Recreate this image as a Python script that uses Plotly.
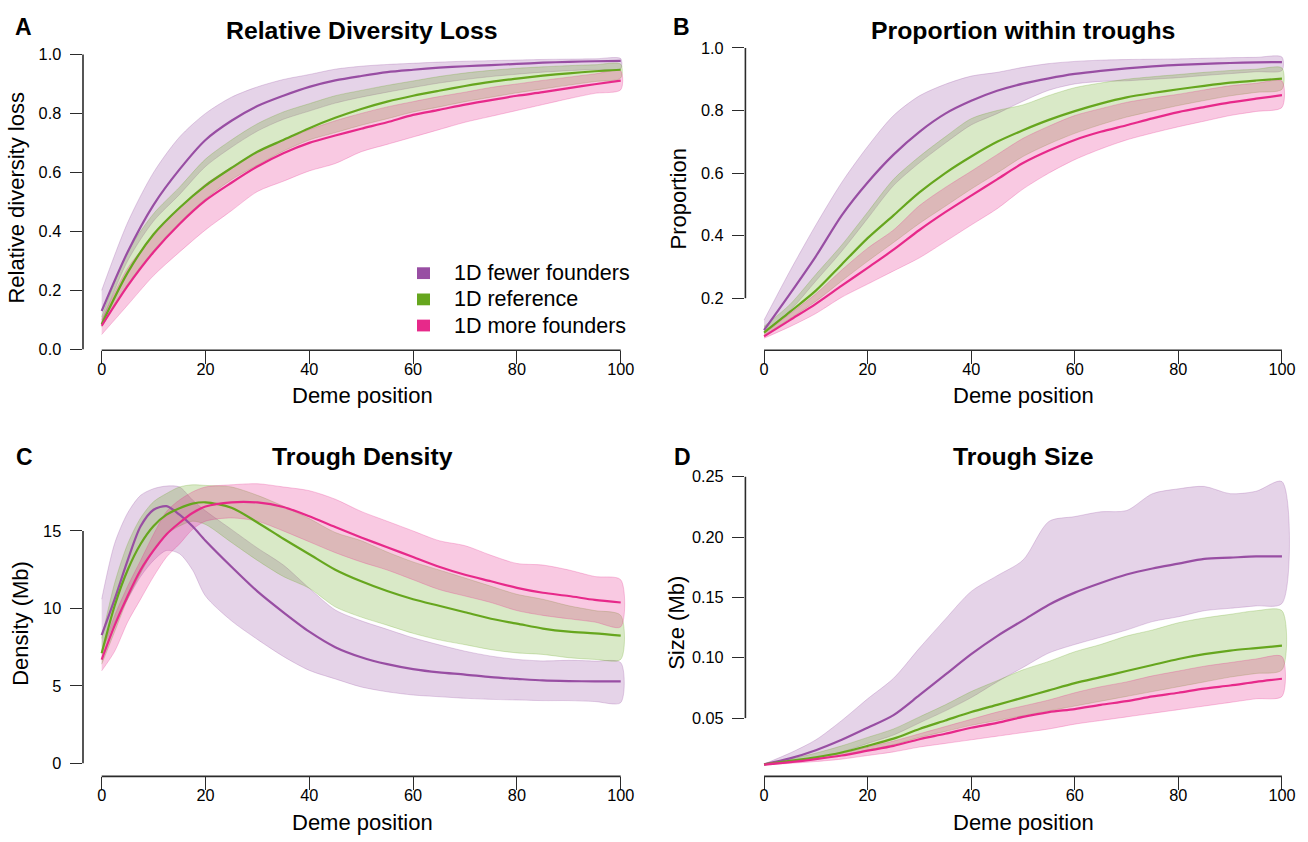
import plotly.graph_objects as go

# ---------------- data ----------------
deme = [0, 5, 10, 15, 20, 25, 30, 35, 40, 45, 50, 55, 60, 65, 70, 75, 80, 85, 90, 95, 100]
deme_c = [0, 2.5, 5, 7.5, 10, 12.5, 15, 17.5, 20, 25, 30, 35, 40, 45, 50, 55, 60, 65, 70, 75, 80, 85, 90, 95, 100]

series_names = ["1D fewer founders", "1D reference", "1D more founders"]

# Panel A: relative diversity loss
a_fewer_mean = [0.13, 0.33, 0.49, 0.61, 0.71, 0.775, 0.825, 0.86, 0.89, 0.912, 0.927, 0.94, 0.948, 0.955, 0.96, 0.964, 0.968, 0.972, 0.975, 0.977, 0.978]
a_fewer_hi = [0.20, 0.43, 0.60, 0.72, 0.80, 0.855, 0.89, 0.915, 0.932, 0.95, 0.96, 0.966, 0.97, 0.974, 0.977, 0.979, 0.981, 0.983, 0.984, 0.985, 0.986]
a_fewer_lo = [0.09, 0.30, 0.435, 0.525, 0.62, 0.685, 0.74, 0.78, 0.808, 0.835, 0.855, 0.872, 0.888, 0.903, 0.915, 0.925, 0.933, 0.94, 0.945, 0.949, 0.952]
a_ref_mean = [0.085, 0.26, 0.39, 0.48, 0.555, 0.615, 0.67, 0.71, 0.75, 0.785, 0.815, 0.84, 0.86, 0.877, 0.893, 0.907, 0.918, 0.928, 0.936, 0.943, 0.948]
a_ref_hi = [0.11, 0.33, 0.46, 0.55, 0.645, 0.71, 0.765, 0.805, 0.833, 0.86, 0.878, 0.895, 0.91, 0.925, 0.937, 0.946, 0.953, 0.958, 0.962, 0.965, 0.967]
a_ref_lo = [0.075, 0.22, 0.335, 0.43, 0.51, 0.575, 0.625, 0.672, 0.71, 0.735, 0.76, 0.782, 0.805, 0.822, 0.84, 0.855, 0.87, 0.883, 0.896, 0.908, 0.92]
a_more_mean = [0.08, 0.215, 0.33, 0.425, 0.505, 0.565, 0.62, 0.665, 0.70, 0.725, 0.748, 0.77, 0.795, 0.812, 0.83, 0.845, 0.86, 0.872, 0.886, 0.899, 0.911]
a_more_hi = [0.10, 0.275, 0.385, 0.48, 0.56, 0.617, 0.67, 0.71, 0.745, 0.775, 0.80, 0.822, 0.84, 0.857, 0.872, 0.888, 0.90, 0.912, 0.923, 0.934, 0.944]
a_more_lo = [0.05, 0.15, 0.25, 0.33, 0.405, 0.47, 0.535, 0.57, 0.605, 0.63, 0.67, 0.695, 0.72, 0.745, 0.77, 0.79, 0.81, 0.83, 0.85, 0.868, 0.88]

# Panel B: proportion within troughs
b_fewer_mean = [0.098, 0.214, 0.334, 0.465, 0.57, 0.659, 0.732, 0.79, 0.831, 0.863, 0.886, 0.903, 0.917, 0.927, 0.935, 0.941, 0.946, 0.949, 0.952, 0.954, 0.955]
b_fewer_hi = [0.13, 0.287, 0.434, 0.57, 0.685, 0.784, 0.847, 0.884, 0.91, 0.922, 0.938, 0.95, 0.957, 0.961, 0.963, 0.964, 0.965, 0.967, 0.969, 0.97, 0.971]
b_fewer_lo = [0.09, 0.16, 0.255, 0.35, 0.455, 0.56, 0.633, 0.696, 0.754, 0.79, 0.83, 0.865, 0.885, 0.893, 0.895, 0.90, 0.905, 0.912, 0.918, 0.924, 0.928]
b_ref_mean = [0.09, 0.156, 0.224, 0.308, 0.392, 0.465, 0.538, 0.60, 0.653, 0.70, 0.737, 0.77, 0.798, 0.822, 0.842, 0.856, 0.868, 0.879, 0.889, 0.896, 0.902]
b_ref_hi = [0.11, 0.18, 0.276, 0.37, 0.475, 0.58, 0.653, 0.716, 0.774, 0.80, 0.818, 0.848, 0.873, 0.888, 0.90, 0.908, 0.915, 0.922, 0.928, 0.932, 0.936]
b_ref_lo = [0.08, 0.135, 0.19, 0.255, 0.318, 0.378, 0.439, 0.494, 0.549, 0.60, 0.653, 0.693, 0.727, 0.755, 0.779, 0.798, 0.816, 0.832, 0.847, 0.858, 0.868]
b_more_mean = [0.078, 0.13, 0.182, 0.24, 0.297, 0.355, 0.418, 0.475, 0.528, 0.58, 0.632, 0.672, 0.706, 0.732, 0.753, 0.775, 0.795, 0.811, 0.826, 0.838, 0.849]
b_more_hi = [0.085, 0.15, 0.214, 0.29, 0.36, 0.418, 0.496, 0.554, 0.606, 0.659, 0.711, 0.75, 0.784, 0.806, 0.826, 0.84, 0.852, 0.866, 0.879, 0.887, 0.894]
b_more_lo = [0.072, 0.109, 0.151, 0.203, 0.245, 0.287, 0.329, 0.381, 0.434, 0.486, 0.549, 0.60, 0.643, 0.677, 0.706, 0.728, 0.748, 0.766, 0.784, 0.797, 0.81]

# Panel C: trough density (per Mb), sampled at deme_c
c_fewer_mean = [8.28, 10.6, 13.1, 15.3, 16.37, 16.6, 16.05, 15.3, 14.37, 12.69, 11.1, 9.75, 8.5, 7.5, 6.85, 6.4, 6.08, 5.87, 5.73, 5.56, 5.45, 5.35, 5.31, 5.29, 5.29]
c_fewer_hi = [10.6, 14.2, 16.16, 17.3, 17.73, 17.9, 17.84, 17.0, 16.3, 15.1, 13.9, 12.8, 11.3, 9.9, 9.2, 8.65, 8.1, 7.65, 7.24, 6.92, 6.71, 6.61, 6.65, 6.6, 6.5]
c_fewer_lo = [7.2, 9.1, 10.6, 12.06, 13.1, 13.74, 13.53, 12.48, 10.8, 9.2, 8.0, 6.9, 6.0, 5.45, 4.93, 4.62, 4.41, 4.3, 4.2, 4.13, 4.09, 4.05, 4.05, 3.99, 3.92]
c_ref_mean = [7.1, 10.17, 12.48, 14.16, 15.32, 16.05, 16.47, 16.76, 16.85, 16.5, 15.55, 14.5, 13.5, 12.5, 11.75, 11.12, 10.59, 10.17, 9.75, 9.33, 9.02, 8.7, 8.5, 8.39, 8.24]
c_ref_hi = [8.07, 11.64, 14.16, 15.84, 16.89, 17.42, 17.84, 17.98, 17.94, 17.84, 17.3, 16.6, 15.8, 14.9, 14.37, 13.64, 13.0, 12.48, 11.96, 11.43, 10.91, 10.59, 10.17, 9.86, 9.55]
c_ref_lo = [6.4, 8.5, 10.6, 12.27, 13.74, 14.79, 15.32, 15.63, 15.42, 14.26, 13.1, 12.06, 11.3, 10.1, 9.44, 8.92, 8.39, 7.97, 7.66, 7.34, 7.13, 7.03, 6.82, 6.71, 6.71]
c_more_mean = [6.7, 8.9, 10.8, 12.48, 13.74, 14.79, 15.53, 16.16, 16.58, 16.85, 16.84, 16.55, 15.95, 15.25, 14.58, 13.95, 13.32, 12.69, 12.17, 11.75, 11.33, 11.01, 10.8, 10.55, 10.38]
c_more_hi = [7.23, 9.54, 11.43, 13.1, 14.79, 16.26, 17.0, 17.52, 17.84, 17.98, 18.05, 17.84, 17.6, 17.05, 16.26, 15.63, 15.0, 14.37, 14.05, 13.43, 12.9, 12.8, 12.48, 12.06, 11.85]
c_more_lo = [5.97, 7.23, 9.12, 10.6, 12.06, 13.32, 14.16, 15.1, 15.63, 15.84, 15.63, 15.0, 14.3, 13.6, 13.0, 12.48, 11.85, 11.22, 10.8, 10.38, 9.86, 9.55, 9.33, 9.12, 8.81]

# Panel D: trough size (Mb)
d_fewer_mean = [0.0117, 0.0166, 0.0234, 0.032, 0.042, 0.0525, 0.069, 0.086, 0.103, 0.118, 0.131, 0.144, 0.154, 0.162, 0.169, 0.174, 0.178, 0.182, 0.183, 0.184, 0.184]
d_fewer_hi = [0.012, 0.021, 0.032, 0.048, 0.066, 0.083, 0.108, 0.132, 0.155, 0.168, 0.181, 0.213, 0.217, 0.221, 0.222, 0.236, 0.240, 0.242, 0.236, 0.238, 0.246]
d_fewer_lo = [0.0115, 0.0135, 0.017, 0.022, 0.029, 0.036, 0.046, 0.056, 0.067, 0.080, 0.092, 0.104, 0.111, 0.117, 0.123, 0.130, 0.134, 0.139, 0.141, 0.143, 0.145]
d_ref_mean = [0.0117, 0.0145, 0.0175, 0.0215, 0.027, 0.033, 0.041, 0.048, 0.055, 0.061, 0.067, 0.073, 0.079, 0.084, 0.089, 0.094, 0.099, 0.103, 0.106, 0.108, 0.110]
d_ref_hi = [0.012, 0.016, 0.021, 0.027, 0.034, 0.041, 0.051, 0.061, 0.072, 0.081, 0.090, 0.097, 0.105, 0.111, 0.118, 0.123, 0.129, 0.133, 0.136, 0.139, 0.139]
d_ref_lo = [0.0115, 0.0135, 0.016, 0.019, 0.0235, 0.028, 0.034, 0.039, 0.044, 0.048, 0.052, 0.056, 0.060, 0.064, 0.068, 0.072, 0.076, 0.080, 0.084, 0.087, 0.090]
d_more_mean = [0.0115, 0.0135, 0.016, 0.019, 0.023, 0.027, 0.0325, 0.037, 0.042, 0.046, 0.051, 0.055, 0.0575, 0.061, 0.064, 0.068, 0.071, 0.0745, 0.077, 0.080, 0.0826]
d_more_hi = [0.012, 0.014, 0.017, 0.021, 0.026, 0.031, 0.037, 0.043, 0.049, 0.055, 0.060, 0.065, 0.071, 0.076, 0.080, 0.085, 0.089, 0.093, 0.096, 0.099, 0.101]
d_more_lo = [0.011, 0.0125, 0.014, 0.016, 0.019, 0.022, 0.026, 0.029, 0.032, 0.035, 0.038, 0.041, 0.045, 0.048, 0.051, 0.054, 0.057, 0.060, 0.063, 0.066, 0.068]

x_ticks = [0, 20, 40, 60, 80, 100]
a_yticks = [0.0, 0.2, 0.4, 0.6, 0.8, 1.0]
b_yticks = [0.2, 0.4, 0.6, 0.8, 1.0]
c_yticks = [0, 5, 10, 15]
d_yticks = [0.05, 0.10, 0.15, 0.20, 0.25]

# ---------------- style ----------------
W, H = 1308, 842
FONT = "Liberation Sans, Arial, Helvetica, sans-serif"
COLORS = ["#984EA3", "#66A61E", "#E7298A"]
AXC = "#2b2b2b"


def rgba(hexc, a):
    h = hexc.lstrip("#")
    return "rgba(%d,%d,%d,%s)" % (int(h[0:2], 16), int(h[2:4], 16), int(h[4:6], 16), a)


def px(x):
    return x / W


def py(y):
    return 1 - y / H


panels = [
    dict(key="", x=deme, xr=[-3.6, 103.6], yr=[-0.0033, 1.031], xd=[px(83.0), px(639.4)], yd=[py(349.5), py(39)],
         yticks=a_yticks, fmt=".1f",
         data=[(a_fewer_mean, a_fewer_lo, a_fewer_hi), (a_ref_mean, a_ref_lo, a_ref_hi), (a_more_mean, a_more_lo, a_more_hi)],
         title="Relative Diversity Loss", letter="A", ylab="Relative diversity loss",
         letter_pos=(23.7, 20.5), title_pos=(362, 24), xlab_pos=(362, 396), ylab_pos=(17, 194)),
    dict(key="2", x=deme, xr=[-3.6, 103.6], yr=[0.0335, 1.0085], xd=[px(745.4), px(1300.6)], yd=[py(349.5), py(39)],
         yticks=b_yticks, fmt=".1f",
         data=[(b_fewer_mean, b_fewer_lo, b_fewer_hi), (b_ref_mean, b_ref_lo, b_ref_hi), (b_more_mean, b_more_lo, b_more_hi)],
         title="Proportion within troughs", letter="B", ylab="Proportion",
         letter_pos=(681.5, 20.5), title_pos=(1023, 24), xlab_pos=(1023, 396), ylab_pos=(679, 195)),
    dict(key="3", x=deme_c, xr=[-3.6, 103.6], yr=[-0.84, 18.77], xd=[px(83.0), px(639.4)], yd=[py(783.3), py(474)],
         yticks=c_yticks, fmt="d",
         data=[(c_fewer_mean, c_fewer_lo, c_fewer_hi), (c_ref_mean, c_ref_lo, c_ref_hi), (c_more_mean, c_more_lo, c_more_hi)],
         title="Trough Density", letter="C", ylab="Density (Mb)",
         letter_pos=(24, 458), title_pos=(362, 458), xlab_pos=(362, 830), ylab_pos=(21, 628)),
    dict(key="4", x=deme, xr=[-3.6, 103.6], yr=[0.00173, 0.2535], xd=[px(745.4), px(1300.6)], yd=[py(783.3), py(474)],
         yticks=d_yticks, fmt=".2f",
         data=[(d_fewer_mean, d_fewer_lo, d_fewer_hi), (d_ref_mean, d_ref_lo, d_ref_hi), (d_more_mean, d_more_lo, d_more_hi)],
         title="Trough Size", letter="D", ylab="Size (Mb)",
         letter_pos=(682, 458), title_pos=(1023, 458), xlab_pos=(1023, 830), ylab_pos=(677, 627)),
]

fig = go.Figure()
layout = dict(
    width=W, height=H, margin=dict(l=0, r=0, t=0, b=0),
    paper_bgcolor="white", plot_bgcolor="white", showlegend=False,
    font=dict(family=FONT, color="black"),
)
shapes = []
annotations = []


def to_paper(v, rng, dom):
    return dom[0] + (v - rng[0]) / (rng[1] - rng[0]) * (dom[1] - dom[0])


for p in panels:
    k = p["key"]
    xa, ya = "x" + k, "y" + k
    # bands first
    for (mean, lo, hi), col in zip(p["data"], COLORS):
        fig.add_trace(go.Scatter(
            x=list(p["x"]) + list(p["x"])[::-1], y=list(hi) + list(lo)[::-1],
            fill="toself", fillcolor=rgba(col, 0.25), mode="lines",
            line=dict(color=rgba(col, 0.25), width=1, shape="spline", smoothing=0.8),
            hoverinfo="skip", xaxis=xa, yaxis=ya))
    for (mean, lo, hi), col, nm in zip(p["data"], COLORS, series_names):
        fig.add_trace(go.Scatter(
            x=p["x"], y=mean, mode="lines", name=nm,
            line=dict(color=col, width=2.2, shape="spline", smoothing=0.8), xaxis=xa, yaxis=ya))

    common = dict(showgrid=False, zeroline=False, showline=False, ticks="outside",
                  ticklen=12.5, tickwidth=1.3, tickcolor=AXC, fixedrange=True,
                  tickfont=dict(family=FONT, size=16.3, color="black"))
    layout["xaxis" + k] = dict(common, domain=p["xd"], range=p["xr"], anchor=ya,
                               tickmode="array", tickvals=x_ticks, ticklabelstandoff=-8)
    layout["yaxis" + k] = dict(common, domain=p["yd"], range=p["yr"], anchor=xa,
                               tickmode="array", tickvals=p["yticks"], tickformat=p["fmt"],
                               ticklabelstandoff=5)

    # R-style axis lines spanning only the tick range
    y0 = to_paper(p["yticks"][0], p["yr"], p["yd"])
    y1 = to_paper(p["yticks"][-1], p["yr"], p["yd"])
    shapes.append(dict(type="line", xref="paper", yref="paper", x0=p["xd"][0], x1=p["xd"][0],
                       y0=y0, y1=y1, line=dict(color=AXC, width=1.6)))
    x0 = to_paper(x_ticks[0], p["xr"], p["xd"])
    x1 = to_paper(x_ticks[-1], p["xr"], p["xd"])
    shapes.append(dict(type="line", xref="paper", yref="paper", x0=x0, x1=x1,
                       y0=p["yd"][0], y1=p["yd"][0], line=dict(color=AXC, width=1.6)))

    lx, ly = p["letter_pos"]
    annotations.append(dict(text="<b>%s</b>" % p["letter"], x=px(lx), y=py(ly), xref="paper", yref="paper",
                            showarrow=False, xanchor="center", yanchor="middle",
                            font=dict(family=FONT, size=23, color="black")))
    tx, ty = p["title_pos"]
    annotations.append(dict(text="<b>%s</b>" % p["title"], x=px(tx), y=py(ty), xref="paper", yref="paper",
                            showarrow=False, xanchor="center", yanchor="middle",
                            font=dict(family=FONT, size=24.8, color="black")))
    bx, by = p["xlab_pos"]
    annotations.append(dict(text="Deme position", x=px(bx), y=py(by), xref="paper", yref="paper",
                            showarrow=False, xanchor="center", yanchor="middle",
                            font=dict(family=FONT, size=22, color="black")))
    vx, vy = p["ylab_pos"]
    annotations.append(dict(text=p["ylab"], x=px(vx), y=py(vy), xref="paper", yref="paper",
                            showarrow=False, xanchor="center", yanchor="middle", textangle=-90,
                            font=dict(family=FONT, size=22, color="black")))

# legend in panel A
legend_rows = [271, 297.7, 324.3]
for nm, col, ry in zip(series_names, COLORS, legend_rows):
    shapes.append(dict(type="rect", xref="paper", yref="paper",
                       x0=px(417), x1=px(430), y0=py(ry + 6), y1=py(ry - 6),
                       fillcolor=col, line=dict(width=0)))
    annotations.append(dict(text=nm, x=px(452), y=py(ry), xref="paper", yref="paper",
                            showarrow=False, xanchor="left", yanchor="middle",
                            font=dict(family=FONT, size=21.5, color="black")))

layout["shapes"] = shapes
layout["annotations"] = annotations
fig.update_layout(**layout)
fig.write_html(
    "out.html",
    config={"displayModeBar": False, "staticPlot": False},
    post_script="document.documentElement.style.margin='0';document.body.style.margin='0';"
                "document.body.style.overflow='hidden';document.documentElement.style.overflow='hidden';",
)
